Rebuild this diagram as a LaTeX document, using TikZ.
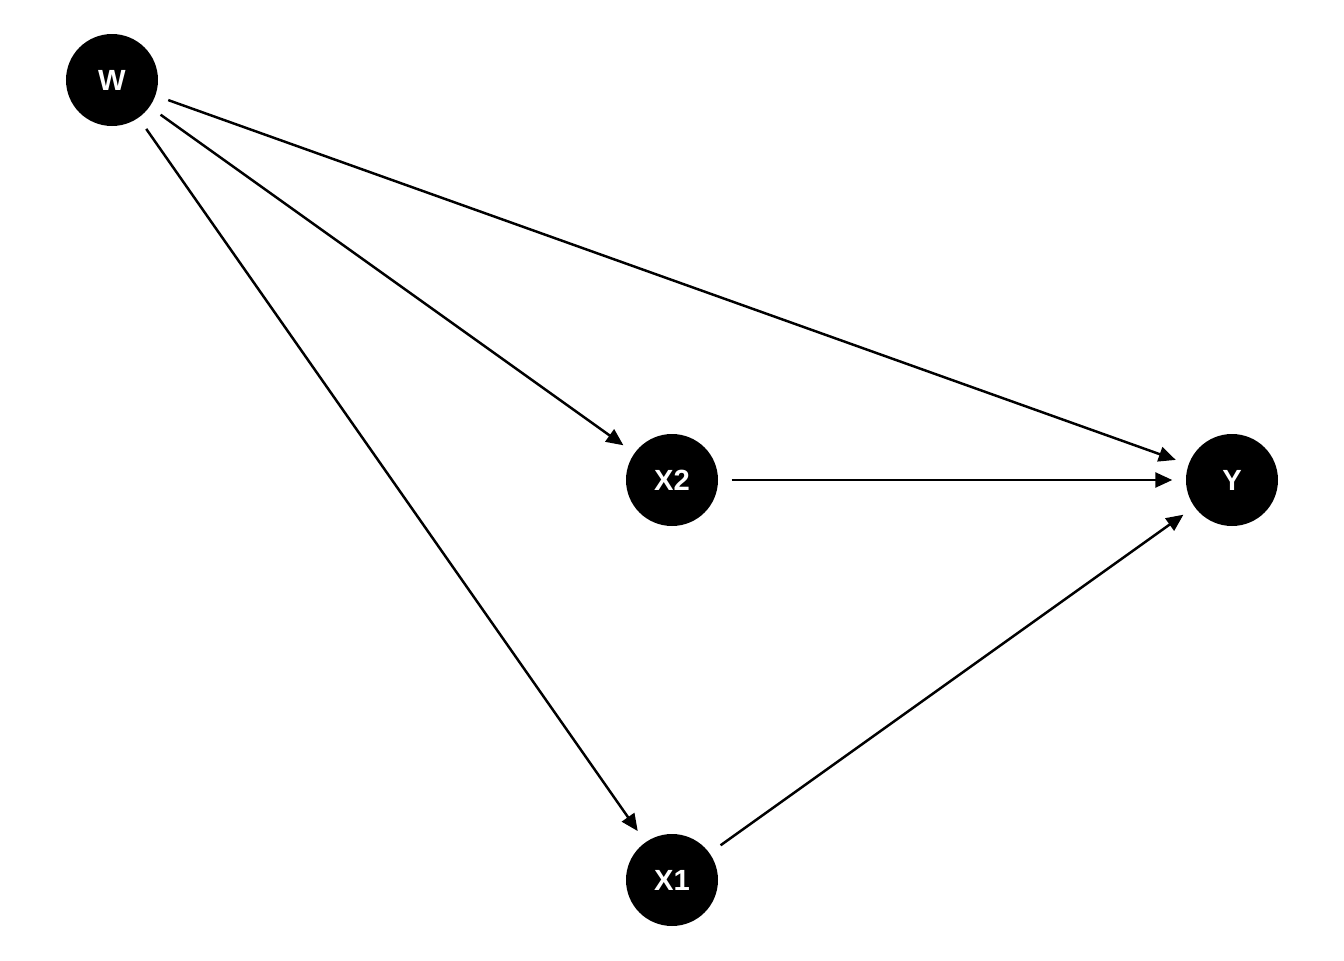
\documentclass[tikz,border=0pt]{standalone}
\usepackage{fontspec}
\setmainfont{Liberation Sans}
\usetikzlibrary{arrows.meta,positioning}

\begin{document}
\begin{tikzpicture}[
    >={Triangle[length=1.7mm,width=1.5mm]},
    every node/.style={
        circle,
        fill=black,
        draw=none,
        minimum size=9.2mm,
        inner sep=0pt,
        text=white,
        font=\fontsize{8.3}{10}\selectfont\bfseries
    },
    edge/.style={
        ->,
        line width=0.7pt,
        shorten >=1.3mm,
        shorten <=1.3mm
    }
]

\useasboundingbox (0,0) rectangle (13.44,9.6);

% Nodes
\node (w) at (1.12,8.80) {W};
\node (x2) at (6.72,4.80) {X2};
\node (x1) at (6.72,0.80) {X1};
\node (y) at (12.32,4.80) {Y};

% Edges
\draw[edge] (w) -- (y);
\draw[edge] (w) -- (x2);
\draw[edge] (w) -- (x1);
\draw[edge] (x2) -- (y);
\draw[edge] (x1) -- (y);

\end{tikzpicture}
\end{document}
